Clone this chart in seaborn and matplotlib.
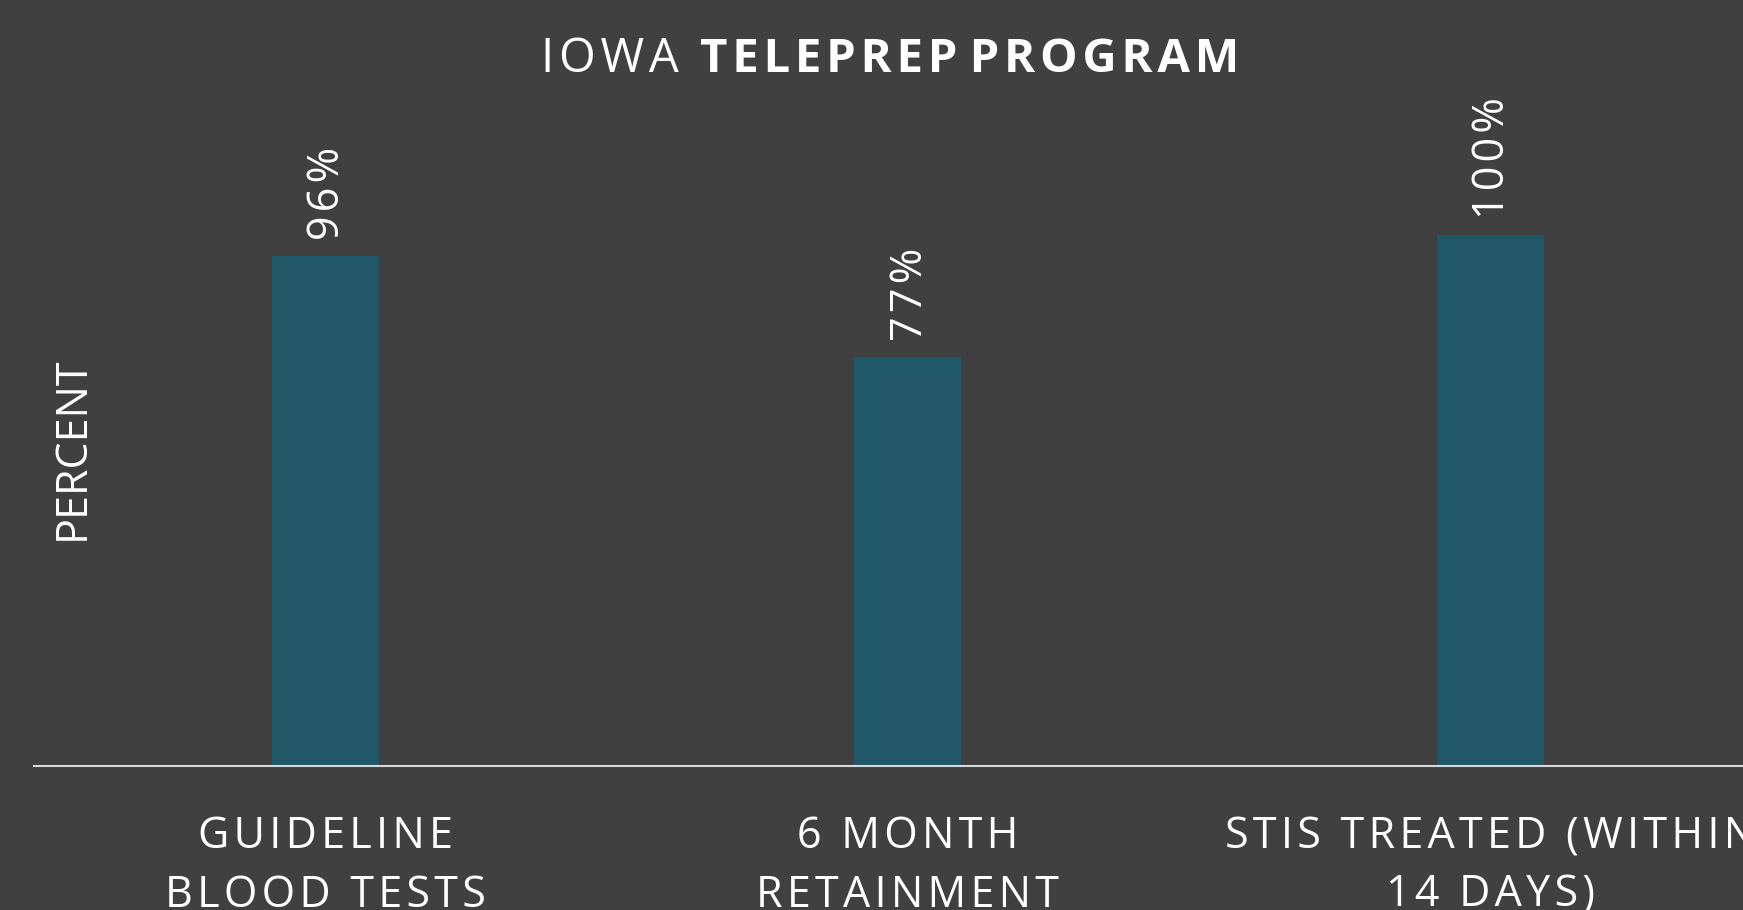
import pandas as pd
import seaborn as sns
import matplotlib.pyplot as plt

# values
categories = ['GUIDELINE\nBLOOD TESTS', '6 MONTH\nRETAINMENT', 'STIS TREATED (WITHIN\n14 DAYS)']
percent = [96, 77, 100]
bar_labels = ['96%', '77%', '100%']


def spaced(s):
    # slide text is letter-spaced, fake it with hair spaces
    return '\n'.join('\u200a'.join(line) for line in s.split('\n'))


df = pd.DataFrame({'measure': [spaced(c) for c in categories], 'percent': percent})

bg = '#404040'
sns.set_theme(style='white')
plt.rcParams['font.family'] = ['Open Sans', 'DejaVu Sans']

fig = plt.figure(figsize=(17.43, 9.10), dpi=100, facecolor=bg)
ax = fig.add_axes([0.0195, 0.1582, 1.0026, 0.70])
ax.set_facecolor(bg)

sns.barplot(x='measure', y='percent', data=df, color='#215868', width=0.184,
            saturation=1, linewidth=0, edgecolor='none', ax=ax)

ax.set_ylim(0, 120)
ax.set_xlim(-0.5, 2.5)

# rotated value labels above each bar
for i, (v, lab) in enumerate(zip(percent, bar_labels)):
    ax.annotate(spaced(lab), xy=(i, v), xytext=(2, 12), textcoords='offset points',
                rotation=90, ha='center', va='bottom', color='white', fontsize=31)

for s in ['top', 'right', 'left']:
    ax.spines[s].set_visible(False)
ax.spines['bottom'].set_color('#d9d9d9')
ax.spines['bottom'].set_linewidth(1.5)
ax.set_yticks([])
ax.tick_params(axis='x', length=0, pad=35, labelsize=31, labelcolor='white')
for t in ax.get_xticklabels():
    t.set_linespacing(1.42)
ax.set_xlabel('')
ax.set_ylabel('')

fig.text(72 / 1743, 1 - 448 / 910, 'PERCENT', rotation=90, color='white',
         fontsize=31, ha='center', va='center')

# title: normal + bold parts
t1 = fig.text(541 / 1743, 1 - 72 / 910, spaced('IOWA') + ' \u200a\u200a', color='white',
              fontsize=34, ha='left', va='baseline')
fig.canvas.draw()
ax.annotate(spaced('TELEPREP') + ' ' + spaced('PROGRAM'), xy=(1, 0), xycoords=t1,
            color='white', fontsize=34, fontweight='bold', ha='left', va='bottom')

plt.savefig('out.png', dpi=100, facecolor=bg)
